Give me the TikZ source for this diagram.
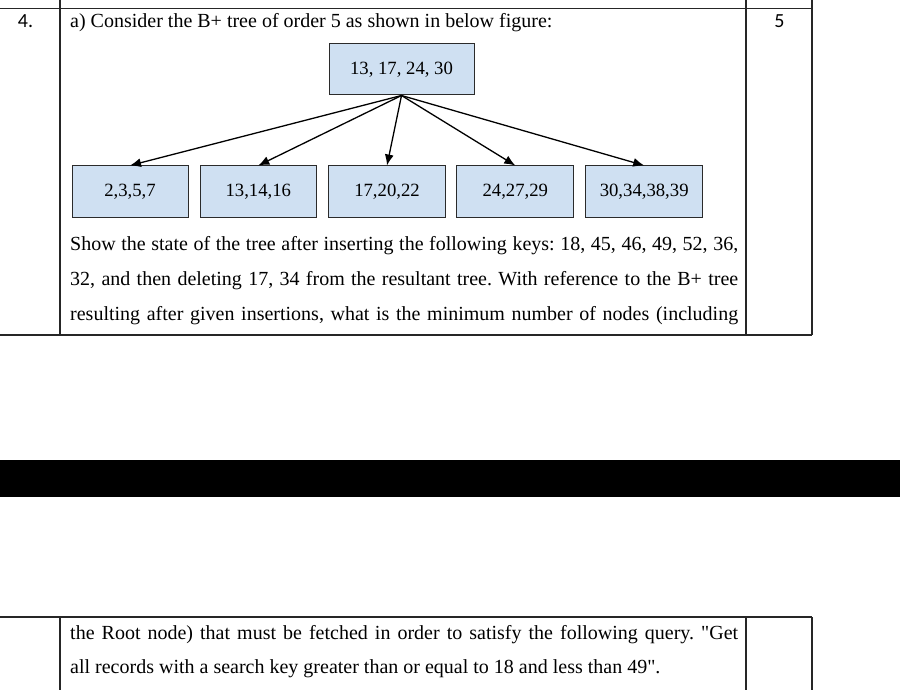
\documentclass[tikz,border=0pt]{standalone}
\usepackage{fontspec}
\setmainfont{Liberation Serif}[Ligatures=TeXOff]
\newfontfamily\cifra{Carlito}
\usetikzlibrary{arrows.meta}
\definecolor{riempi}{HTML}{CFE0F2}
\definecolor{bordo}{HTML}{2B2B2B}
\tikzset{
  chiave/.style={draw=bordo, fill=riempi, line width=1pt, minimum height=51pt, inner sep=0pt, font=\fontsize{18.7}{22}\selectfont},
  freccia/.style={-{Latex[length=11pt,width=9pt]}, line width=1.3pt},
  riga/.style={anchor=base west, inner sep=0pt, font=\fontsize{20}{24}\selectfont},
  tabella/.style={line width=1.2pt, black!85},
  numero/.style={font=\cifra\fontsize{20}{22}\selectfont}
}
\newcommand{\giusta}[1]{\makebox[668pt][s]{#1}}
\frenchspacing

\begin{document}
\begin{tikzpicture}[x=1pt, y=-1pt]
        \useasboundingbox (0,0) rectangle (900,690);
        % Tabella in alto
        \draw[tabella] (0,8.5) -- (812,8.5);
        \draw[tabella] (0,335) -- (812,335);
        \foreach \x in {60,746,812} \draw[tabella] (\x,0) -- (\x,335);
        \node[numero] (num) at (25.5,21.5) {4.};
        \node[numero] (punti) at (779.5,21.5) {5};
        \node[riga] (titolo) at (70,28) {a) Consider the B+ tree of order 5 as shown in below figure:};
        % Albero B+
        \node[chiave, minimum width=145pt] (radice) at (401.5,69.5) {13, 17, 24, 30};
        \node[chiave, minimum width=116pt] (f1) at (130,191.5) {2,3,5,7};
        \node[chiave, minimum width=116pt] (f2) at (258.3,191.5) {13,14,16};
        \node[chiave, minimum width=117pt] (f3) at (387,191.5) {17,20,22};
        \node[chiave, minimum width=117pt] (f4) at (515.3,191.5) {24,27,29};
        \node[chiave, minimum width=117pt] (f5) at (644.2,191.5) {30,34,38,39};
        \foreach \f in {f1,f2,f3,f4,f5} \draw[freccia] (radice.south) -- (\f.north);
        % Testo della domanda
        \node[riga] (r1) at (70,250) {\giusta{Show the state of the tree after inserting the following keys: 18, 45, 46, 49, 52, 36,}};
        \node[riga] (r2) at (70,285) {\giusta{32, and then deleting 17, 34 from the resultant tree. With reference to the B+ tree}};
        \node[riga] (r3) at (70,320) {\giusta{resulting after given insertions, what is the minimum number of nodes (including}};
        % Banda nera
        \fill[black] (0,460) rectangle (900,497);
        % Tabella in basso
        \draw[tabella] (0,617) -- (812,617);
        \foreach \x in {60,746,812} \draw[tabella] (\x,617) -- (\x,690);
        \node[riga] (r4) at (70,639) {\giusta{the Root node) that must be fetched in order to satisfy the following query. "Get}};
        \node[riga] (r5) at (70,673) {all records with a search key greater than or equal to 18 and less than 49".};
    \end{tikzpicture}
\end{document}
